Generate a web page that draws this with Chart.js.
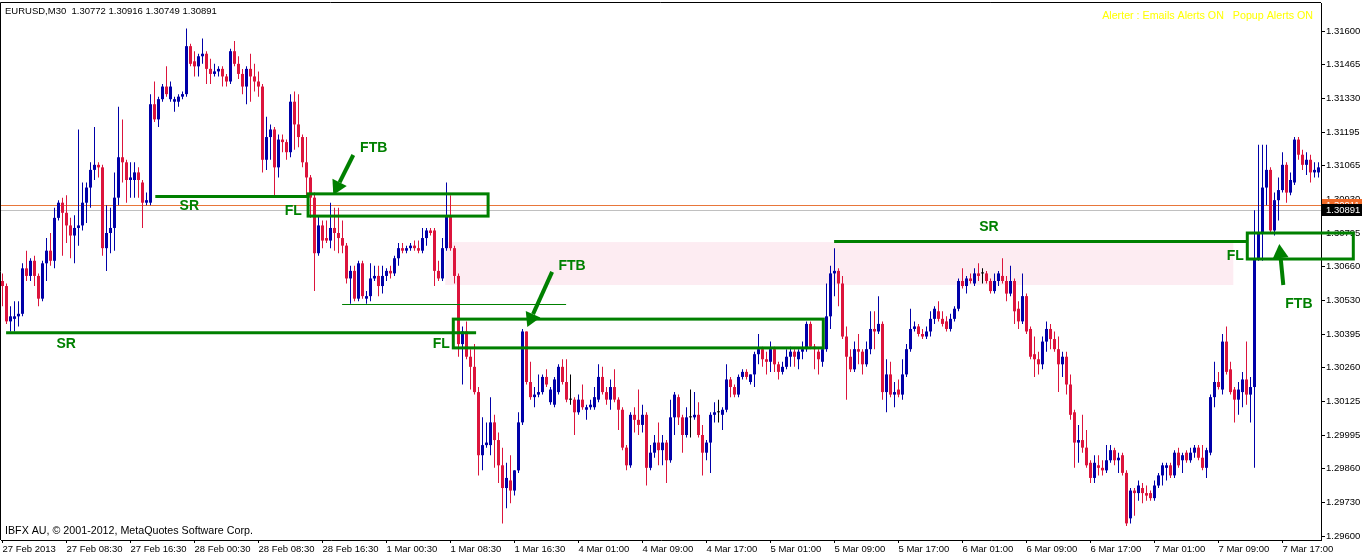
<!DOCTYPE html>
<html>
<head>
<meta charset="utf-8">
<title>EURUSD,M30</title>
<script src="https://cdn.jsdelivr.net/npm/chart.js@4.4.0/dist/chart.umd.min.js"></script>
<style>
  html, body { margin: 0; padding: 0; background: #fff; }
  canvas { display: block; }
</style>
</head>
<body>
<canvas id="chart" width="1362" height="556"></canvas>
<script>
// EURUSD M30 bars, bar 0 = 27 Feb 2013 00:30
const opens = [
  1.3061,1.3059,1.3045,1.3046,1.3047,1.3048,1.3066,1.3063,1.3069,1.3063,
  1.3054,1.3068,1.3073,1.3069,1.3086,1.3092,1.3088,1.3083,1.3079,1.3082,
  1.3083,1.3092,1.3098,1.3105,1.3107,1.3106,1.3074,1.3080,1.3082,1.3094,
  1.3110,1.3108,1.3101,1.3101,1.3104,1.3100,1.3092,1.3092,1.3131,1.3125,
  1.3133,1.3138,1.3133,1.3132,1.3132,1.3134,1.3135,1.3154,1.3148,1.3146,
  1.3150,1.3151,1.3145,1.3143,1.3144,1.3145,1.3142,1.3140,1.3152,1.3147,
  1.3143,1.3138,1.3145,1.3142,1.3140,1.3138,1.3109,1.3118,1.3121,1.3106,
  1.3117,1.3116,1.3112,1.3132,1.3123,1.3118,1.3108,1.3102,1.3094,1.3072,
  1.3083,1.3078,1.3077,1.3082,1.3080,1.3078,1.3075,1.3062,1.3065,1.3054,
  1.3068,1.3054,1.3055,1.3062,1.3063,1.3059,1.3063,1.3065,1.3064,1.3070,
  1.3074,1.3073,1.3074,1.3075,1.3074,1.3073,1.3078,1.3081,1.3081,1.3065,
  1.3062,1.3074,1.3087,1.3074,1.3063,1.3036,1.3041,1.3031,1.3027,1.3017,
  1.2992,1.2996,1.2996,1.3005,1.2998,1.2988,1.2979,1.2982,1.2978,1.2986,
  1.3005,1.3041,1.3021,1.3015,1.3016,1.3017,1.3023,1.3013,1.3012,1.3017,
  1.3027,1.3021,1.3014,1.3014,1.3009,1.3014,1.3010,1.3011,1.3011,1.3014,
  1.3023,1.3017,1.3014,1.3019,1.3014,1.3010,1.2995,1.2988,1.3008,1.3006,
  1.3004,1.3008,1.2987,1.2993,1.2997,1.2994,1.2997,1.2990,1.3007,1.3015,
  1.3007,1.3000,1.3007,1.3007,1.3008,1.3000,1.2993,1.2997,1.3008,1.3009,
  1.3008,1.3010,1.3022,1.3019,1.3016,1.3023,1.3025,1.3021,1.3024,1.3032,
  1.3034,1.3030,1.3029,1.3034,1.3028,1.3025,1.3027,1.3031,1.3033,1.3030,
  1.3033,1.3034,1.3044,1.3035,1.3033,1.3029,1.3034,1.3047,1.3064,1.3065,
  1.3060,1.3039,1.3031,1.3026,1.3034,1.3033,1.3028,1.3034,1.3042,1.3041,
  1.3044,1.3017,1.3024,1.3016,1.3018,1.3016,1.3024,1.3034,1.3042,1.3043,
  1.3040,1.3039,1.3041,1.3046,1.3049,1.3046,1.3045,1.3042,1.3046,1.3050,
  1.3061,1.3059,1.3062,1.3060,1.3064,1.3064,1.3064,1.3061,1.3057,1.3061,
  1.3063,1.3061,1.3056,1.3061,1.3050,1.3045,1.3055,1.3042,1.3032,1.3030,
  1.3028,1.3037,1.3042,1.3038,1.3034,1.3028,1.3031,1.3020,1.3009,1.2997,
  1.2998,1.2995,1.2989,1.2983,1.2988,1.2987,1.2986,1.2990,1.2994,1.2990,
  1.2992,1.2985,1.2967,1.2978,1.2977,1.2979,1.2977,1.2977,1.2975,1.2980,
  1.2984,1.2987,1.2988,1.2984,1.2993,1.2990,1.2993,1.2990,1.2993,1.2995,
  1.2991,1.2987,1.2993,1.3015,1.3021,1.3018,1.3037,1.3026,1.3018,1.3014,
  1.3017,1.3022,1.3016,1.3019,1.3070,1.3080,1.3098,1.3105,1.3081,1.3093,
  1.3097,1.3107,1.3096,1.3100,1.3117,1.3111,1.3107,1.3109,1.3104,1.3104
];
const highs = [
  1.3064,1.3060,1.3051,1.3053,1.3053,1.3068,1.3073,1.3070,1.3071,1.3064,
  1.3069,1.3078,1.3080,1.3090,1.3093,1.3094,1.3095,1.3086,1.3087,1.3121,
  1.3100,1.3100,1.3108,1.3122,1.3108,1.3107,1.3091,1.3090,1.3104,1.3130,
  1.3125,1.3109,1.3108,1.3108,1.3106,1.3101,1.3096,1.3135,1.3140,1.3134,
  1.3139,1.3146,1.3140,1.3134,1.3135,1.3136,1.3161,1.3155,1.3152,1.3151,
  1.3157,1.3152,1.3149,1.3147,1.3146,1.3146,1.3143,1.3153,1.3156,1.3150,
  1.3145,1.3146,1.3151,1.3147,1.3144,1.3139,1.3126,1.3123,1.3122,1.3119,
  1.3119,1.3117,1.3135,1.3136,1.3135,1.3119,1.3118,1.3103,1.3096,1.3087,
  1.3085,1.3085,1.3092,1.3090,1.3090,1.3085,1.3076,1.3067,1.3067,1.3069,
  1.3069,1.3057,1.3068,1.3067,1.3067,1.3067,1.3066,1.3067,1.3071,1.3076,
  1.3076,1.3075,1.3076,1.3077,1.3077,1.3082,1.3082,1.3082,1.3082,1.3069,
  1.3078,1.3100,1.3095,1.3075,1.3064,1.3043,1.3045,1.3034,1.3036,1.3019,
  1.3007,1.3005,1.3015,1.3008,1.3001,1.2995,1.2989,1.2992,1.2986,1.3009,
  1.3042,1.3041,1.3029,1.3019,1.3024,1.3024,1.3026,1.3019,1.3023,1.3028,
  1.3030,1.3030,1.3024,1.3015,1.3016,1.3020,1.3012,1.3014,1.3019,1.3028,
  1.3027,1.3019,1.3022,1.3026,1.3015,1.3011,1.2996,1.3009,1.3011,1.3018,
  1.3012,1.3009,1.2996,1.3000,1.3005,1.3000,1.2998,1.3014,1.3017,1.3016,
  1.3008,1.3011,1.3018,1.3017,1.3013,1.3004,1.2998,1.3009,1.3013,1.3014,
  1.3011,1.3028,1.3023,1.3020,1.3024,1.3026,1.3026,1.3024,1.3033,1.3040,
  1.3035,1.3033,1.3037,1.3035,1.3029,1.3029,1.3034,1.3035,1.3034,1.3034,
  1.3037,1.3045,1.3045,1.3036,1.3034,1.3035,1.3060,1.3067,1.3074,1.3066,
  1.3063,1.3043,1.3034,1.3037,1.3040,1.3034,1.3037,1.3049,1.3049,1.3055,
  1.3045,1.3030,1.3029,1.3021,1.3022,1.3030,1.3036,1.3050,1.3045,1.3044,
  1.3042,1.3043,1.3049,1.3051,1.3053,1.3049,1.3047,1.3048,1.3051,1.3062,
  1.3066,1.3063,1.3064,1.3066,1.3068,1.3066,1.3065,1.3062,1.3064,1.3065,
  1.3070,1.3063,1.3067,1.3062,1.3053,1.3064,1.3056,1.3043,1.3039,1.3033,
  1.3039,1.3045,1.3044,1.3041,1.3039,1.3033,1.3033,1.3024,1.3010,1.3004,
  1.3008,1.3002,1.2990,1.2992,1.2992,1.2990,1.2996,1.2996,1.2995,1.2993,
  1.2993,1.2986,1.2979,1.2979,1.2982,1.2981,1.2980,1.2978,1.2982,1.2985,
  1.2989,1.2989,1.2989,1.2994,1.2995,1.2993,1.2994,1.2995,1.2996,1.2996,
  1.2996,1.2995,1.3016,1.3029,1.3025,1.3040,1.3043,1.3029,1.3019,1.3021,
  1.3025,1.3037,1.3023,1.3089,1.3115,1.3115,1.3115,1.3106,1.3096,1.3102,
  1.3112,1.3108,1.3104,1.3118,1.3118,1.3113,1.3112,1.3111,1.3108,1.3108
];
const lows = [
  1.3051,1.3044,1.3041,1.3041,1.3043,1.3047,1.3061,1.3061,1.3059,1.3051,
  1.3053,1.3061,1.3067,1.3066,1.3085,1.3071,1.3076,1.3070,1.3068,1.3075,
  1.3081,1.3084,1.3090,1.3101,1.3102,1.3071,1.3065,1.3072,1.3073,1.3091,
  1.3100,1.3092,1.3094,1.3094,1.3094,1.3082,1.3091,1.3091,1.3124,1.3122,
  1.3132,1.3134,1.3132,1.3128,1.3130,1.3133,1.3134,1.3146,1.3142,1.3142,
  1.3147,1.3139,1.3139,1.3142,1.3142,1.3138,1.3138,1.3139,1.3146,1.3141,
  1.3135,1.3131,1.3132,1.3136,1.3134,1.3104,1.3105,1.3109,1.3095,1.3102,
  1.3112,1.3109,1.3110,1.3113,1.3114,1.3106,1.3094,1.3086,1.3057,1.3071,
  1.3074,1.3076,1.3074,1.3073,1.3072,1.3072,1.3060,1.3052,1.3053,1.3053,
  1.3054,1.3052,1.3053,1.3061,1.3055,1.3056,1.3061,1.3062,1.3063,1.3067,
  1.3072,1.3072,1.3073,1.3073,1.3072,1.3072,1.3075,1.3079,1.3059,1.3061,
  1.3061,1.3073,1.3073,1.3060,1.3031,1.3020,1.3030,1.3018,1.3016,1.2984,
  1.2986,1.2995,1.2992,1.2987,1.2981,1.2965,1.2971,1.2973,1.2976,1.2985,
  1.3004,1.3020,1.3014,1.3011,1.3015,1.3016,1.3019,1.3012,1.3011,1.3016,
  1.3020,1.3013,1.3012,1.3000,1.3008,1.3010,1.3006,1.3010,1.3010,1.3013,
  1.3016,1.3012,1.3010,1.3013,1.3002,1.2994,1.2986,1.2987,1.3001,1.3000,
  1.3001,1.2980,1.2986,1.2991,1.2988,1.2988,1.2981,1.2989,1.3000,1.3004,
  1.2993,1.2999,1.2999,1.3006,1.2999,1.2984,1.2990,1.2985,1.3005,1.3005,
  1.3002,1.3009,1.3015,1.3015,1.3015,1.3022,1.3022,1.3020,1.3019,1.3028,
  1.3027,1.3024,1.3025,1.3025,1.3022,1.3024,1.3026,1.3027,1.3027,1.3026,
  1.3030,1.3033,1.3034,1.3026,1.3024,1.3027,1.3033,1.3042,1.3055,1.3051,
  1.3038,1.3014,1.3025,1.3025,1.3028,1.3024,1.3027,1.3032,1.3034,1.3040,
  1.3014,1.3009,1.3015,1.3011,1.3015,1.3014,1.3023,1.3033,1.3041,1.3039,
  1.3038,1.3038,1.3039,1.3044,1.3045,1.3043,1.3041,1.3041,1.3045,1.3049,
  1.3058,1.3056,1.3060,1.3059,1.3061,1.3060,1.3060,1.3056,1.3056,1.3059,
  1.3060,1.3053,1.3055,1.3044,1.3042,1.3044,1.3040,1.3030,1.3023,1.3024,
  1.3026,1.3033,1.3034,1.3033,1.3017,1.3023,1.3016,1.3006,1.2987,1.2989,
  1.2993,1.2987,1.2981,1.2981,1.2984,1.2984,1.2985,1.2989,1.2988,1.2985,
  1.2984,1.2964,1.2965,1.2968,1.2974,1.2973,1.2974,1.2974,1.2974,1.2979,
  1.2980,1.2982,1.2983,1.2983,1.2987,1.2985,1.2989,1.2989,1.2991,1.2990,
  1.2986,1.2983,1.2992,1.3011,1.3018,1.3016,1.3024,1.3016,1.3005,1.3008,
  1.3011,1.3012,1.3005,1.2987,1.3069,1.3069,1.3091,1.3080,1.3079,1.3085,
  1.3096,1.3092,1.3095,1.3099,1.3109,1.3105,1.3103,1.3100,1.3102,1.3102
];
const closes = [
  1.3059,1.3045,1.3047,1.3047,1.3048,1.3066,1.3063,1.3069,1.3063,1.3054,
  1.3068,1.3073,1.3069,1.3086,1.3092,1.3088,1.3083,1.3079,1.3082,1.3083,
  1.3092,1.3098,1.3105,1.3107,1.3106,1.3074,1.3080,1.3082,1.3094,1.3110,
  1.3108,1.3101,1.3102,1.3104,1.3101,1.3092,1.3093,1.3131,1.3125,1.3133,
  1.3138,1.3135,1.3138,1.3133,1.3134,1.3135,1.3154,1.3147,1.3146,1.3150,
  1.3151,1.3145,1.3143,1.3144,1.3145,1.3142,1.3140,1.3152,1.3147,1.3143,
  1.3138,1.3145,1.3142,1.3140,1.3138,1.3109,1.3118,1.3121,1.3106,1.3117,
  1.3116,1.3112,1.3132,1.3123,1.3118,1.3108,1.3102,1.3094,1.3072,1.3083,
  1.3077,1.3077,1.3082,1.3080,1.3078,1.3075,1.3062,1.3065,1.3054,1.3068,
  1.3055,1.3055,1.3062,1.3063,1.3059,1.3063,1.3065,1.3064,1.3070,1.3074,
  1.3073,1.3074,1.3075,1.3074,1.3073,1.3078,1.3081,1.3080,1.3065,1.3062,
  1.3074,1.3087,1.3074,1.3063,1.3036,1.3041,1.3031,1.3027,1.3017,1.2992,
  1.2996,1.2997,1.3005,1.2998,1.2988,1.2979,1.2983,1.2978,1.2986,1.3005,
  1.3041,1.3021,1.3015,1.3016,1.3017,1.3023,1.3020,1.3018,1.3022,1.3027,
  1.3021,1.3014,1.3014,1.3009,1.3014,1.3011,1.3011,1.3012,1.3015,1.3023,
  1.3017,1.3014,1.3019,1.3014,1.3010,1.2995,1.2988,1.3008,1.3006,1.3004,
  1.3008,1.2987,1.2993,1.2997,1.2994,1.2997,1.2990,1.3007,1.3016,1.3007,
  1.3000,1.3007,1.3007,1.3008,1.3000,1.2993,1.2997,1.3008,1.3009,1.3009,
  1.3010,1.3022,1.3019,1.3016,1.3023,1.3025,1.3023,1.3024,1.3032,1.3034,
  1.3030,1.3029,1.3034,1.3028,1.3025,1.3027,1.3031,1.3033,1.3031,1.3033,
  1.3034,1.3044,1.3035,1.3034,1.3030,1.3034,1.3047,1.3064,1.3065,1.3060,
  1.3039,1.3031,1.3026,1.3034,1.3033,1.3028,1.3034,1.3042,1.3041,1.3044,
  1.3017,1.3024,1.3016,1.3017,1.3016,1.3024,1.3034,1.3042,1.3043,1.3040,
  1.3039,1.3041,1.3046,1.3050,1.3046,1.3044,1.3042,1.3046,1.3050,1.3061,
  1.3059,1.3062,1.3061,1.3064,1.3063,1.3064,1.3061,1.3057,1.3061,1.3064,
  1.3061,1.3056,1.3061,1.3049,1.3045,1.3055,1.3041,1.3031,1.3030,1.3028,
  1.3037,1.3042,1.3038,1.3034,1.3028,1.3031,1.3020,1.3008,1.2997,1.2998,
  1.2995,1.2988,1.2983,1.2989,1.2987,1.2986,1.2990,1.2994,1.2990,1.2991,
  1.2985,1.2965,1.2978,1.2977,1.2980,1.2977,1.2976,1.2975,1.2980,1.2984,
  1.2988,1.2988,1.2984,1.2993,1.2988,1.2992,1.2990,1.2993,1.2995,1.2991,
  1.2987,1.2994,1.3015,1.3021,1.3019,1.3037,1.3025,1.3017,1.3014,1.3018,
  1.3022,1.3016,1.3019,1.3070,1.3080,1.3098,1.3105,1.3081,1.3093,1.3097,
  1.3107,1.3096,1.3101,1.3117,1.3111,1.3107,1.3109,1.3104,1.3105,1.3106
];

// one time label every 16 bars
const timeLabels = [
  '27 Feb 2013', '27 Feb 08:30', '27 Feb 16:30', '28 Feb 00:30', '28 Feb 08:30',
  '28 Feb 16:30', '1 Mar 00:30', '1 Mar 08:30', '1 Mar 16:30', '4 Mar 01:00',
  '4 Mar 09:00', '4 Mar 17:00', '5 Mar 01:00', '5 Mar 09:00', '5 Mar 17:00',
  '6 Mar 01:00', '6 Mar 09:00', '6 Mar 17:00', '7 Mar 01:00', '7 Mar 09:00',
  '7 Mar 17:00'
];
const priceLabels = [
  '1.31600', '1.31465', '1.31330', '1.31195', '1.31065', '1.30930', '1.30795', '1.30660',
  '1.30530', '1.30395', '1.30260', '1.30125', '1.29995', '1.29860', '1.29730', '1.29600'
];

// hand drawn objects, in [bar, price] terms
const srLines = [[0.9, 118.4, 1.30405], [38.2, 76.4, 1.30945], [207.9, 311.2, 1.30766]];
const thinLine = [84.9, 140.9, 1.30518];
const flBoxes = [[76.4, 121.4, 1.30955, 1.30867], [112.7, 205.2, 1.30459, 1.30345], [311.2, 337.7, 1.30800, 1.30697]];
const zone = [110.7, 307.7, 1.30764, 1.30594];
const ftbArrows = [[87.7, 1.31109, 82.7, 1.30951], [137.4, 1.30646, 131.2, 1.30428], [320.2, 1.30594, 319.2, 1.30756]];
const notes = [
  ['FTB', 92.8, 1.31137], ['FTB', 142.4, 1.30669], ['FTB', 324.1, 1.30519],
  ['FL', 72.7, 1.30887], ['FL', 109.7, 1.30360], ['FL', 308.2, 1.30709],
  ['SR', 15.9, 1.30360], ['SR', 46.7, 1.30907], ['SR', 246.6, 1.30824]
];
const askPrice = 1.30911;
const bidPrice = 1.30891;

const BULL = '#0000a8';
const BEAR = '#dc143c';
const GREEN = '#008000';
const FONT = '"Liberation Sans", Arial, sans-serif';

const colours = opens.map((o, i) => closes[i] > o ? BULL : (closes[i] < o ? BEAR : '#000'));
const wicks = opens.map((o, i) => ({ x: i, y: [lows[i], highs[i]] }));
const bodies = opens.map((o, i) => ({ x: i, y: [o, closes[i]] }));

const yTop = 1.316, yStep = 0.02 / 15;

function arrow(ctx, x1, y1, x2, y2) {
  const len = Math.hypot(x2 - x1, y2 - y1);
  const ux = (x2 - x1) / len, uy = (y2 - y1) / len;
  const bx = x2 - ux * 14, by = y2 - uy * 14;
  ctx.lineWidth = 4;
  ctx.beginPath();
  ctx.moveTo(x1, y1);
  ctx.lineTo(bx, by);
  ctx.stroke();
  ctx.beginPath();
  ctx.moveTo(x2, y2);
  ctx.lineTo(bx - uy * 8, by + ux * 8);
  ctx.lineTo(bx + uy * 8, by - ux * 8);
  ctx.closePath();
  ctx.fill();
}

const drawings = {
  id: 'drawings',
  beforeDatasetsDraw(chart) {
    const { ctx, chartArea: a, scales: { x, y } } = chart;
    ctx.save();
    ctx.fillStyle = '#fdecf2';
    const zx = x.getPixelForValue(zone[0]), zy = y.getPixelForValue(zone[2]);
    ctx.fillRect(zx, zy, x.getPixelForValue(zone[1]) - zx, y.getPixelForValue(zone[3]) - zy);
    ctx.lineWidth = 1;
    [[askPrice, '#e8763a'], [bidPrice, '#c0c0c0']].forEach(([p, c]) => {
      const py = Math.round(y.getPixelForValue(p)) + 0.5;
      ctx.strokeStyle = c;
      ctx.beginPath();
      ctx.moveTo(a.left, py);
      ctx.lineTo(a.right, py);
      ctx.stroke();
    });
    ctx.restore();
  },
  afterDraw(chart) {
    const { ctx, chartArea: a, scales: { x, y } } = chart;
    ctx.save();
    // frame
    ctx.strokeStyle = '#000';
    ctx.lineWidth = 1;
    ctx.beginPath();
    ctx.moveTo(0.5, a.bottom);
    ctx.lineTo(0.5, a.top - 0.5);
    ctx.lineTo(a.right, a.top - 0.5);
    ctx.stroke();

    // texts of the terminal
    ctx.font = '9.5px ' + FONT;
    ctx.textBaseline = 'middle';
    ctx.fillStyle = '#000';
    ctx.fillText('EURUSD,M30  1.30772 1.30916 1.30749 1.30891', 5, 11);
    ctx.font = '10.7px ' + FONT;
    ctx.fillText('IBFX AU, \u00a9 2001-2012, MetaQuotes Software Corp.', 5, 531);
    ctx.fillStyle = '#ffff00';
    ctx.textAlign = 'right';
    ctx.fillText('Alerter : Emails Alerts ON   Popup Alerts ON', 1313, 16);

    // green markup
    ctx.strokeStyle = GREEN;
    ctx.fillStyle = GREEN;
    ctx.lineWidth = 3;
    srLines.forEach(([f, t, p]) => {
      const py = y.getPixelForValue(p);
      ctx.beginPath();
      ctx.moveTo(x.getPixelForValue(f), py);
      ctx.lineTo(x.getPixelForValue(t), py);
      ctx.stroke();
    });
    flBoxes.forEach(([f, t, hi, lo]) => {
      const bx = x.getPixelForValue(f), by = y.getPixelForValue(hi);
      ctx.strokeRect(bx, by, x.getPixelForValue(t) - bx, y.getPixelForValue(lo) - by);
    });
    ctx.lineWidth = 1;
    const ty = Math.round(y.getPixelForValue(thinLine[2])) + 0.5;
    ctx.beginPath();
    ctx.moveTo(x.getPixelForValue(thinLine[0]), ty);
    ctx.lineTo(x.getPixelForValue(thinLine[1]), ty);
    ctx.stroke();
    ftbArrows.forEach(([b1, p1, b2, p2]) => {
      arrow(ctx, x.getPixelForValue(b1), y.getPixelForValue(p1), x.getPixelForValue(b2), y.getPixelForValue(p2));
    });
    ctx.font = 'bold 14px ' + FONT;
    ctx.textAlign = 'center';
    notes.forEach(([t, b, p]) => ctx.fillText(t, x.getPixelForValue(b), y.getPixelForValue(p)));

    // price labels on the axis
    ctx.font = '9.5px ' + FONT;
    ctx.textAlign = 'left';
    [[askPrice, '#f06a28'], [bidPrice, '#000']].forEach(([p, c]) => {
      const py = Math.round(y.getPixelForValue(p));
      ctx.fillStyle = c;
      ctx.fillRect(a.right + 1, py - 6, 41, 12);
      ctx.fillStyle = '#fff';
      ctx.fillText(p.toFixed(5), a.right + 5, py);
    });
    ctx.restore();
  }
};

new Chart(document.getElementById('chart'), {
  type: 'bar',
  data: {
    datasets: [
      { data: wicks, backgroundColor: colours, barThickness: 1, grouped: false, inflateAmount: 0, borderWidth: 0, order: 2 },
      { data: bodies, backgroundColor: colours, barThickness: 3, grouped: false, inflateAmount: 0, borderWidth: 0, minBarLength: 1, order: 1 }
    ]
  },
  options: {
    responsive: false,
    animation: false,
    devicePixelRatio: 1,
    layout: { padding: { left: 1, top: 3, right: 0, bottom: 0 } },
    plugins: { legend: { display: false }, tooltip: { enabled: false } },
    scales: {
      x: {
        type: 'linear',
        min: -0.375,
        max: 329.625,
        offset: false,
        grid: { drawOnChartArea: false, tickLength: 3, color: '#000', offset: false },
        border: { color: '#000' },
        afterBuildTicks: s => { s.ticks = timeLabels.map((t, k) => ({ value: k * 16 })); },
        afterFit: s => { s.height = 16; s.paddingLeft = 0; s.paddingRight = 0; },
        ticks: {
          autoSkip: false, maxRotation: 0, minRotation: 0, align: 'start', padding: 1,
          color: '#000', font: { family: FONT, size: 9.5 },
          callback: (v, i) => timeLabels[i]
        }
      },
      y: {
        position: 'right',
        min: 1.295842,
        max: 1.317109,
        grid: { drawOnChartArea: false, tickLength: 4, color: '#000' },
        border: { color: '#000' },
        afterBuildTicks: s => { s.ticks = priceLabels.map((t, k) => ({ value: yTop - k * yStep })); },
        afterFit: s => { s.width = 41; s.paddingTop = 0; s.paddingBottom = 0; },
        ticks: {
          padding: 1, color: '#000', font: { family: FONT, size: 9.5 },
          callback: (v, i) => priceLabels[i]
        }
      }
    }
  },
  plugins: [drawings]
});
</script>
</body>
</html>
